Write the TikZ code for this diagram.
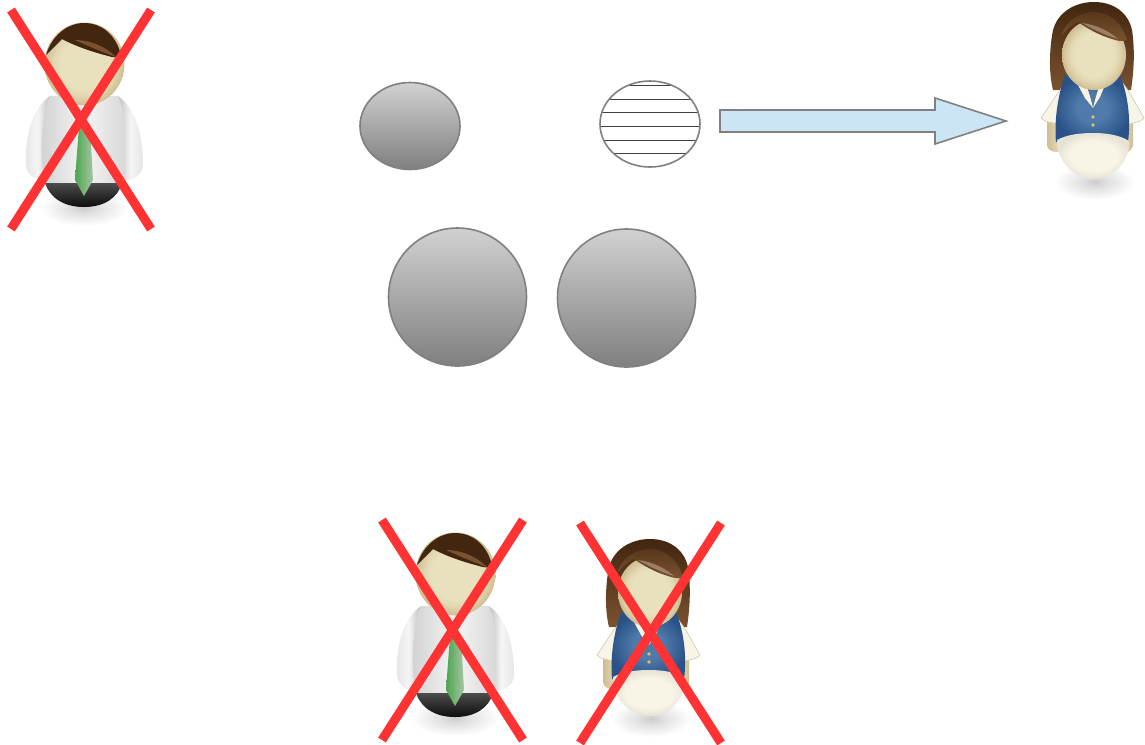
\documentclass[tikz,border=0pt]{standalone}
\definecolor{crossred}{HTML}{FF3333}
\definecolor{edgegray}{HTML}{808080}
\definecolor{arrowblue}{HTML}{CCE5F4}
\definecolor{skin}{HTML}{E9E1BD}
\definecolor{skinout}{HTML}{CFBD92}
\definecolor{hairdark}{HTML}{42260F}
\definecolor{hairlight}{HTML}{7A5230}
\definecolor{vest}{HTML}{4F7AA9}
\definecolor{vestd}{HTML}{2A5288}
\definecolor{cream}{HTML}{F8F5E6}
\definecolor{creamd}{HTML}{CFCBB8}
\definecolor{creamedge}{HTML}{E6E3D6}
\definecolor{button}{HTML}{E0C060}
\pgfdeclareradialshading{facesh}{\pgfpointorigin}{color(0bp)=(skin); color(15bp)=(skin); color(19bp)=(skin!75!skinout); color(25bp)=(skinout); color(50bp)=(skinout)}
\pgfdeclareradialshading{softsh}{\pgfpointorigin}{color(0bp)=(black!20); color(8bp)=(black!12); color(25bp)=(white); color(50bp)=(white)}
\pgfdeclareradialshading{skirtsh}{\pgfpointorigin}{color(0bp)=(cream); color(16bp)=(cream); color(25bp)=(creamedge); color(50bp)=(creamedge)}
\pgfdeclareradialshading{vestsh}{\pgfpointorigin}{color(0bp)=(vest); color(10bp)=(vest); color(25bp)=(vestd); color(50bp)=(vestd)}
\tikzset{
  blob/.style={draw=edgegray,line width=1.2pt,top color=black!18,bottom color=black!50},
  stripe/.style={draw=black!75,line width=0.6pt},
  xbar/.style={draw=crossred,line width=6.8pt},
  shadowblur/.style={shading=softsh,draw=none},
  facefill/.style={shading=facesh,draw=none},
}
\newcommand{\manfig}{%
  \path[shadowblur] (84,208) ellipse (44 and 18);
  % arms
  \path[left color=black!10,right color=black!24,middle color=black!4]
    (50,96) .. controls (30,110) and (25,140) .. (26,165) .. controls (27,178) and (40,182) .. (50,180) -- cycle;
  \path[left color=black!24,right color=black!10,middle color=black!4]
    (118,96) .. controls (138,110) and (143,140) .. (143,165) .. controls (142,178) and (130,182) .. (118,180) -- cycle;
  % torso
  \path[left color=black!18,right color=black!16,middle color=black!4]
    (50,96) -- (118,96) .. controls (128,120) and (126,160) .. (122,184) -- (45,184) .. controls (40,160) and (40,120) .. (50,96) -- cycle;
  % trousers
  \path[top color=black!70,bottom color=black!95]
    (45,183) -- (122,183) .. controls (118,198) and (104,207) .. (84,207) .. controls (64,207) and (50,198) .. (45,183) -- cycle;
  % tie
  \path[left color=green!50!black!70!white,right color=green!35!black!35!white]
    (79,126) -- (90,126) -- (93,180) -- (84,196) -- (75,180) -- cycle;
  % head
  \path[facefill] (84.5,64) ellipse (40 and 41.5);
  % hair
  \path[fill=hairdark] (46,55) .. controls (52,35) and (68,23) .. (84,23)
    .. controls (102,23) and (116,35) .. (121,55) .. controls (118,58) and (115,58) .. (112,57)
    .. controls (92,52) and (75,46) .. (62,39) -- cycle;
  \path[fill=hairlight] (75,40) .. controls (90,40) and (105,46) .. (116,57) .. controls (102,52) and (88,46) .. (75,40) -- cycle;
}
\newcommand{\womanfig}{%
  \path[shadowblur] (1095,182) ellipse (40 and 18);
  % hair
  \path[top color=hairdark,bottom color=hairlight]
    (1053,90) .. controls (1048,70) and (1050,45) .. (1053,30) .. controls (1058,12) and (1075,2) .. (1094,2)
    .. controls (1113,2) and (1128,12) .. (1132,30) .. controls (1135,50) and (1134,70) .. (1131,90) -- cycle;
  % beige arms
  \path[left color=skinout,right color=skin] (1047,118) -- (1047,145) .. controls (1048,152) and (1056,154) .. (1062,150) -- (1062,118) -- cycle;
  \path[left color=skin,right color=skinout] (1133,118) -- (1133,145) .. controls (1132,152) and (1126,154) .. (1122,150) -- (1122,118) -- cycle;
  % sleeves
  \path[fill=cream,draw=creamd,line width=0.5pt] (1066,82) .. controls (1056,95) and (1048,108) .. (1041,118)
    .. controls (1045,123) and (1052,122) .. (1056,124) -- (1070,120) -- cycle;
  \path[fill=cream,draw=creamd,line width=0.5pt] (1122,82) .. controls (1132,95) and (1138,108) .. (1144,118)
    .. controls (1140,123) and (1134,122) .. (1130,124) -- (1116,120) -- cycle;
  % vest
  \path[shading=vestsh]
    (1065,75) -- (1120,75) .. controls (1128,95) and (1131,120) .. (1128,142) -- (1056,142) .. controls (1054,120) and (1058,95) .. (1065,75) -- cycle;
  % collar
  \path[fill=cream] (1078,85) -- (1086,83) -- (1091,100) -- (1093,108) -- (1085,98) -- cycle;
  \path[fill=cream] (1105,85) -- (1100,83) -- (1095,100) -- (1093,108) -- (1100,97) -- cycle;
  \path[fill=button] (1093,117) circle (1.8);
  \path[fill=button] (1093,125) circle (1.8);
  % skirt
  \path[shading=skirtsh]
    (1057,140) .. controls (1068,134) and (1082,133) .. (1094,133) .. controls (1106,133) and (1120,135) .. (1129,141)
    .. controls (1130,160) and (1115,179) .. (1094,179) .. controls (1072,179) and (1057,160) .. (1057,140) -- cycle;
  % face
  \path[facefill] (1094,55) ellipse (32 and 35);
  % fringe
  \path[top color=hairdark!60!hairlight,bottom color=hairlight]
    (1061,36) .. controls (1066,20) and (1080,12) .. (1094,12) .. controls (1108,12) and (1122,22) .. (1127,40)
    .. controls (1122,42) and (1118,41) .. (1112,39) .. controls (1098,35) and (1087,28) .. (1078,22)
    .. controls (1072,25) and (1066,30) .. (1061,36) -- cycle;
  \path[fill=hairlight!60!white,opacity=.7] (1082,23) .. controls (1098,25) and (1110,32) .. (1118,39) .. controls (1105,35) and (1092,29) .. (1082,23) -- cycle;
}
\begin{document}
\begin{tikzpicture}[x=0.75pt,y=-0.75pt]
  \useasboundingbox (0,0) rectangle (1145,744);
  % people
  \begin{scope}\manfig\end{scope}
  \begin{scope}[shift={(371,510)}]\manfig\end{scope}
  \begin{scope}\womanfig\end{scope}
  \begin{scope}[shift={(-444,537)}]\womanfig\end{scope}
  % crosses
  \coordinate (a1) at (11,10); \coordinate (a2) at (151,229);
  \coordinate (a3) at (151,10); \coordinate (a4) at (11,229);
  \draw[xbar] (a1) -- (a2); \draw[xbar] (a3) -- (a4);
  \coordinate (b1) at (382,520); \coordinate (b2) at (523,740);
  \coordinate (b3) at (523,520); \coordinate (b4) at (382,740);
  \draw[xbar] (b1) -- (b2); \draw[xbar] (b3) -- (b4);
  \coordinate (c1) at (580,523); \coordinate (c2) at (721,743);
  \coordinate (c3) at (721,523); \coordinate (c4) at (580,743);
  \draw[xbar] (c1) -- (c2); \draw[xbar] (c3) -- (c4);
  % blobs
  \path[blob] (410,126) ellipse (50 and 43.5);
  \path[blob] (457.5,297) circle (69);
  \path[blob] (626.5,298) circle (69);
  \begin{scope}
    \clip (650,124) ellipse (50 and 43);
    \foreach \yy in {85,99,112.5,126,140,153.5}
      \draw[stripe] (590,\yy) -- (710,\yy);
  \end{scope}
  \draw[edgegray,line width=1.2pt] (650,124) ellipse (50 and 43);
  % arrow
  \draw[draw=edgegray,fill=arrowblue,line width=1.2pt,line join=miter]
    (720,110) -- (935,110) -- (935,98) -- (1006,121) -- (935,144) -- (935,132) -- (720,132) -- cycle;
\end{tikzpicture}
\end{document}
